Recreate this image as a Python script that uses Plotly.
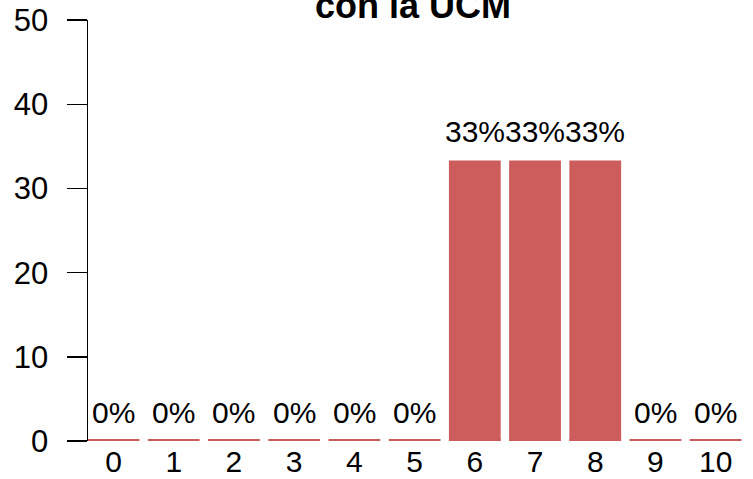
import plotly.graph_objects as go

categories = ["0", "1", "2", "3", "4", "5", "6", "7", "8", "9", "10"]
percent_values = [0, 0, 0, 0, 0, 0, 33.33, 33.33, 33.33, 0, 0]
y_tick_values = [0, 10, 20, 30, 40, 50]
title_text = "con la UCM"

BAR_COLOR = "#CD5C5C"
FONT = "Liberation Sans, Arial, sans-serif"
BORDER = 0.24  # thin outline drawn for every bar (visible on zero bars)

fig = go.Figure()
fig.add_trace(go.Bar(
    x=categories, y=percent_values, marker=dict(color=BAR_COLOR, line=dict(width=0)),
    hoverinfo="skip", showlegend=False,
))
fig.add_trace(go.Bar(
    x=categories, y=[BORDER] * len(categories), base=[0] * len(categories),
    marker=dict(color=BAR_COLOR, line=dict(width=0)),
    hoverinfo="skip", showlegend=False,
))

for c, v in zip(categories, percent_values):
    fig.add_annotation(
        x=c, y=v, xref="x", yref="y", text=f"{v:.0f}%", showarrow=False,
        yanchor="middle", yshift=29, font=dict(size=30, color="black", family=FONT),
    )

fig.add_annotation(
    x=0.4887, y=1.034, xref="paper", yref="paper", text=f"<b>{title_text}</b>",
    showarrow=False, xanchor="center", yanchor="middle",
    font=dict(size=36, color="black", family=FONT),
)

fig.update_layout(
    width=753, height=479,
    margin=dict(l=88, r=0, t=20, b=38, pad=0, autoexpand=False),
    paper_bgcolor="white", plot_bgcolor="white",
    barmode="overlay", bargap=0.14,
    font=dict(family=FONT, size=30, color="black"),
    xaxis=dict(
        type="category", range=[-0.424, 10.62], showline=False, showgrid=False,
        zeroline=False, ticks="", tickfont=dict(size=30), ticklabelstandoff=0,
        automargin=False,
    ),
    yaxis=dict(
        range=[0, 50.02], tickvals=y_tick_values, showline=True, linecolor="black",
        linewidth=1.5, ticks="outside", ticklen=20, tickwidth=1.5, tickcolor="black",
        showgrid=False, zeroline=False, tickfont=dict(size=31), ticklabelstandoff=12,
        automargin=False,
    ),
)

fig.write_html(
    "out.html",
    config={"displayModeBar": False, "staticPlot": True},
    post_script="document.body.style.margin='0';document.body.style.overflow='hidden';",
)
